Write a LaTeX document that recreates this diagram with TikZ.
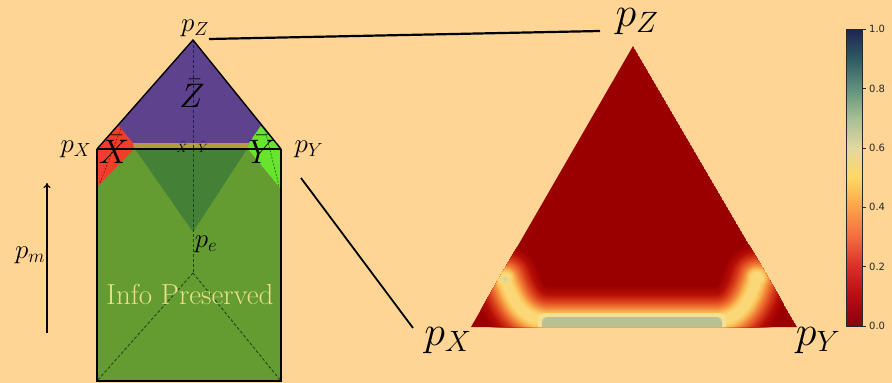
\RequirePackage{fix-cm}
\documentclass[tikz,border=0pt]{standalone}
\usepackage{fontspec}
\newfontfamily\cbfont{DejaVu Sans}
\usetikzlibrary{arrows.meta}
\definecolor{bg}{RGB}{254,213,148}
\definecolor{gmain}{RGB}{100,156,50}
\definecolor{gdark}{RGB}{68,128,54}
\definecolor{purp}{RGB}{94,66,142}
\definecolor{goldb}{RGB}{184,152,66}
\definecolor{redr}{RGB}{240,62,42}
\definecolor{limer}{RGB}{104,228,44}
\definecolor{dgline}{RGB}{20,78,22}
\definecolor{navyd}{RGB}{30,30,90}
\definecolor{infotext}{RGB}{234,224,140}
\definecolor{hbase}{RGB}{155,0,0}
\definecolor{h1}{RGB}{182,14,6}
\definecolor{h2}{RGB}{218,62,28}
\definecolor{h3}{RGB}{240,122,52}
\definecolor{h4}{RGB}{250,188,84}
\definecolor{h5}{RGB}{250,220,124}
\definecolor{ring}{RGB}{244,224,142}
\definecolor{core}{RGB}{186,192,148}
\definecolor{spotc}{RGB}{214,212,150}
\definecolor{cbtext}{RGB}{40,40,40}
\definecolor{k0}{RGB}{138,0,18}
\definecolor{k1}{RGB}{182,12,22}
\definecolor{k2}{RGB}{216,48,38}
\definecolor{k3}{RGB}{244,108,62}
\definecolor{k4}{RGB}{253,162,72}
\definecolor{k5}{RGB}{254,216,100}
\definecolor{k6}{RGB}{226,216,160}
\definecolor{k7}{RGB}{166,190,150}
\definecolor{k8}{RGB}{96,145,125}
\definecolor{k9}{RGB}{46,90,100}
\definecolor{k10}{RGB}{30,36,82}
\pgfdeclareverticalshading{cmap}{100bp}{color(0bp)=(k0); color(25bp)=(k0); color(30bp)=(k1); color(35bp)=(k2); color(40bp)=(k3); color(45bp)=(k4); color(50bp)=(k5); color(55bp)=(k6); color(60bp)=(k7); color(65bp)=(k8); color(70bp)=(k9); color(75bp)=(k10); color(100bp)=(k10)}
\begin{document}
\begin{tikzpicture}[x=1pt,y=-1pt,
  lbl/.style={font=\fontsize{27}{30}\selectfont, inner sep=0pt, anchor=base},
  biglbl/.style={font=\fontsize{42}{46}\selectfont, inner sep=0pt, anchor=base},
  letter/.style={font=\fontsize{34}{38}\selectfont, inner sep=0pt, anchor=base},
  tinylbl/.style={font=\fontsize{12}{14}\selectfont, inner sep=0pt, anchor=base},
  outline/.style={draw=black, line width=1.4pt},
  dgdash/.style={draw=dgline, line width=0.9pt, dash pattern=on 3pt off 2pt},
  conn/.style={draw=black, line width=1.8pt},
  cbl/.style={font=\cbfont\fontsize{10}{12}\selectfont, text=cbtext, anchor=west, inner sep=0pt},
  glow/.style={line cap=round, line join=round},
]
\fill[bg] (0,0) rectangle (892,383);
\useasboundingbox (0,0) rectangle (892,383);

% ---------- left figure ----------
\coordinate (PX) at (97,149);
\coordinate (PY) at (281,149);
\coordinate (PZ) at (193,40);
\coordinate (BL) at (97,381);
\coordinate (BR) at (281,381);
\coordinate (PE) at (193,232);
\coordinate (MID) at (193,273);

\fill[gmain] (PX) rectangle (BR);
\fill[gdark] (135,149) -- (247,149) -- (PE) -- cycle;
\fill[purp] (PX) -- (PZ) -- (PY) -- cycle;
\fill[goldb] (132,143) rectangle (250,149);
\fill[redr] (PX) -- (118.1,125) -- (133,143) -- (134,149) -- (97,187) -- cycle;
\fill[limer] (PY) -- (260.7,126) -- (249,143) -- (248,149) -- (281,189) -- cycle;
\draw[draw=red!50!black, line width=0.5pt, dash pattern=on 2pt off 1.5pt] (100,183) -- (121,128);
\draw[draw=dgline, line width=0.5pt, dash pattern=on 2pt off 1.5pt] (279,186) -- (265,130);

\draw[draw=navyd, line width=0.9pt, dash pattern=on 3pt off 2pt] (PZ) -- (193,149);
\draw[dgdash] (193,149) -- (MID);
\draw[dgdash] (MID) -- (BL);
\draw[dgdash] (MID) -- (BR);

\draw[outline] (PX) -- (PZ) -- (PY);
\draw[outline] (PX) -- (PY);
\draw[outline] (PY) -- (BR) -- (BL) -- (PX);

\node[lbl] (lpz) at (195,31) {$p_Z$};
\node[lbl] (lpx) at (76,152) {$p_X$};
\node[lbl] (lpy) at (309,152) {$p_Y$};
\node[letter] (zbar) at (192,107) {$\bar{Z}$};
\node[letter] (xbar) at (114,163) {$\bar{X}$};
\node[letter] (ybar) at (262,163) {$\bar{Y}$};
\node[tinylbl] (sx) at (182,152) {$\bar{X}$};
\node[tinylbl] (sy) at (203,152) {$\bar{Y}$};
\node[lbl] (lpe) at (206,247) {$p_e$};
\node[lbl] (lpm) at (30,258) {$p_m$};
\node[font=\fontsize{29}{32}\selectfont, text=infotext, anchor=base, inner sep=0pt] (info) at (190,304) {Info Preserved};

\coordinate (am0) at (47,333);
\coordinate (am1) at (47,183);
\draw[-{To[length=5pt,width=7pt]}, line width=1.2pt] (am0) -- (am1);

% ---------- connectors ----------
\coordinate (c1a) at (209,39);
\coordinate (c1b) at (600,31);
\draw[conn, line width=2.2pt] (c1a) -- (c1b);
\coordinate (c2a) at (301,178);
\coordinate (c2b) at (413,328);
\draw[conn] (c2a) -- (c2b);

% ---------- heat map ----------
\coordinate (TX) at (471,327);
\coordinate (TY) at (797,327);
\coordinate (TZ) at (633,46);
\coordinate (SL) at (505,279);
\coordinate (SR) at (757,278);
\begin{scope}
\clip (TX) -- (TZ) -- (TY) -- cycle;
\fill[hbase] (TX) -- (TZ) -- (TY) -- cycle;
\foreach \ca/\cb/\wa/\wb/\ra/\rb in {hbase/h1/70/54/30/24, h1/h2/54/40/24/18, h2/h3/40/28/18/13.5, h3/h4/28/17/13.5/9.5, h4/h5/17/8/9.5/5.5} {
  \foreach \j in {0,...,7} {
    \pgfmathsetmacro\t{\j/8}
    \pgfmathsetmacro\w{\wa+(\wb-\wa)*\t}
    \pgfmathsetmacro\r{\ra+(\rb-\ra)*\t}
    \pgfmathsetmacro\p{100*\t}
    \colorlet{cur}{\cb!\p!\ca}
    \draw[glow, line width=\w pt, draw=cur] (SL) .. controls (512,298) and (520,318) .. (545,321) -- (719,321) .. controls (742,318) and (751,298) .. (SR);
    \fill[cur] (SL) circle[radius=\r pt];
    \fill[cur] (SR) circle[radius=\r pt];
  }
}
\shade[inner color=spotc, outer color=h5] (SL) circle[radius=5pt];
\fill[ring, rounded corners=7pt] (538,313) rectangle (726,345);
\fill[core, rounded corners=5pt] (542,317) rectangle (722,345);
\end{scope}

\node[biglbl] (rpz) at (637,26) {$p_Z$};
\node[biglbl] (rpx) at (448,345) {$p_X$};
\node[biglbl] (rpy) at (818,345) {$p_Y$};

% ---------- colour bar ----------
\shade[shading=cmap] (846,29) rectangle (862,326);
\draw[line width=0.6pt, draw=cbtext] (846,29) rectangle (862,326);
\foreach \yy/\t [count=\i] in {326/0.0, 266.6/0.2, 207.2/0.4, 147.8/0.6, 88.4/0.8, 29/1.0} {
  \draw[line width=0.6pt, draw=cbtext] (862,\yy) -- (866,\yy);
  \node[cbl] (tick\i) at (869,\yy) {\t};
}
\end{tikzpicture}
\end{document}
